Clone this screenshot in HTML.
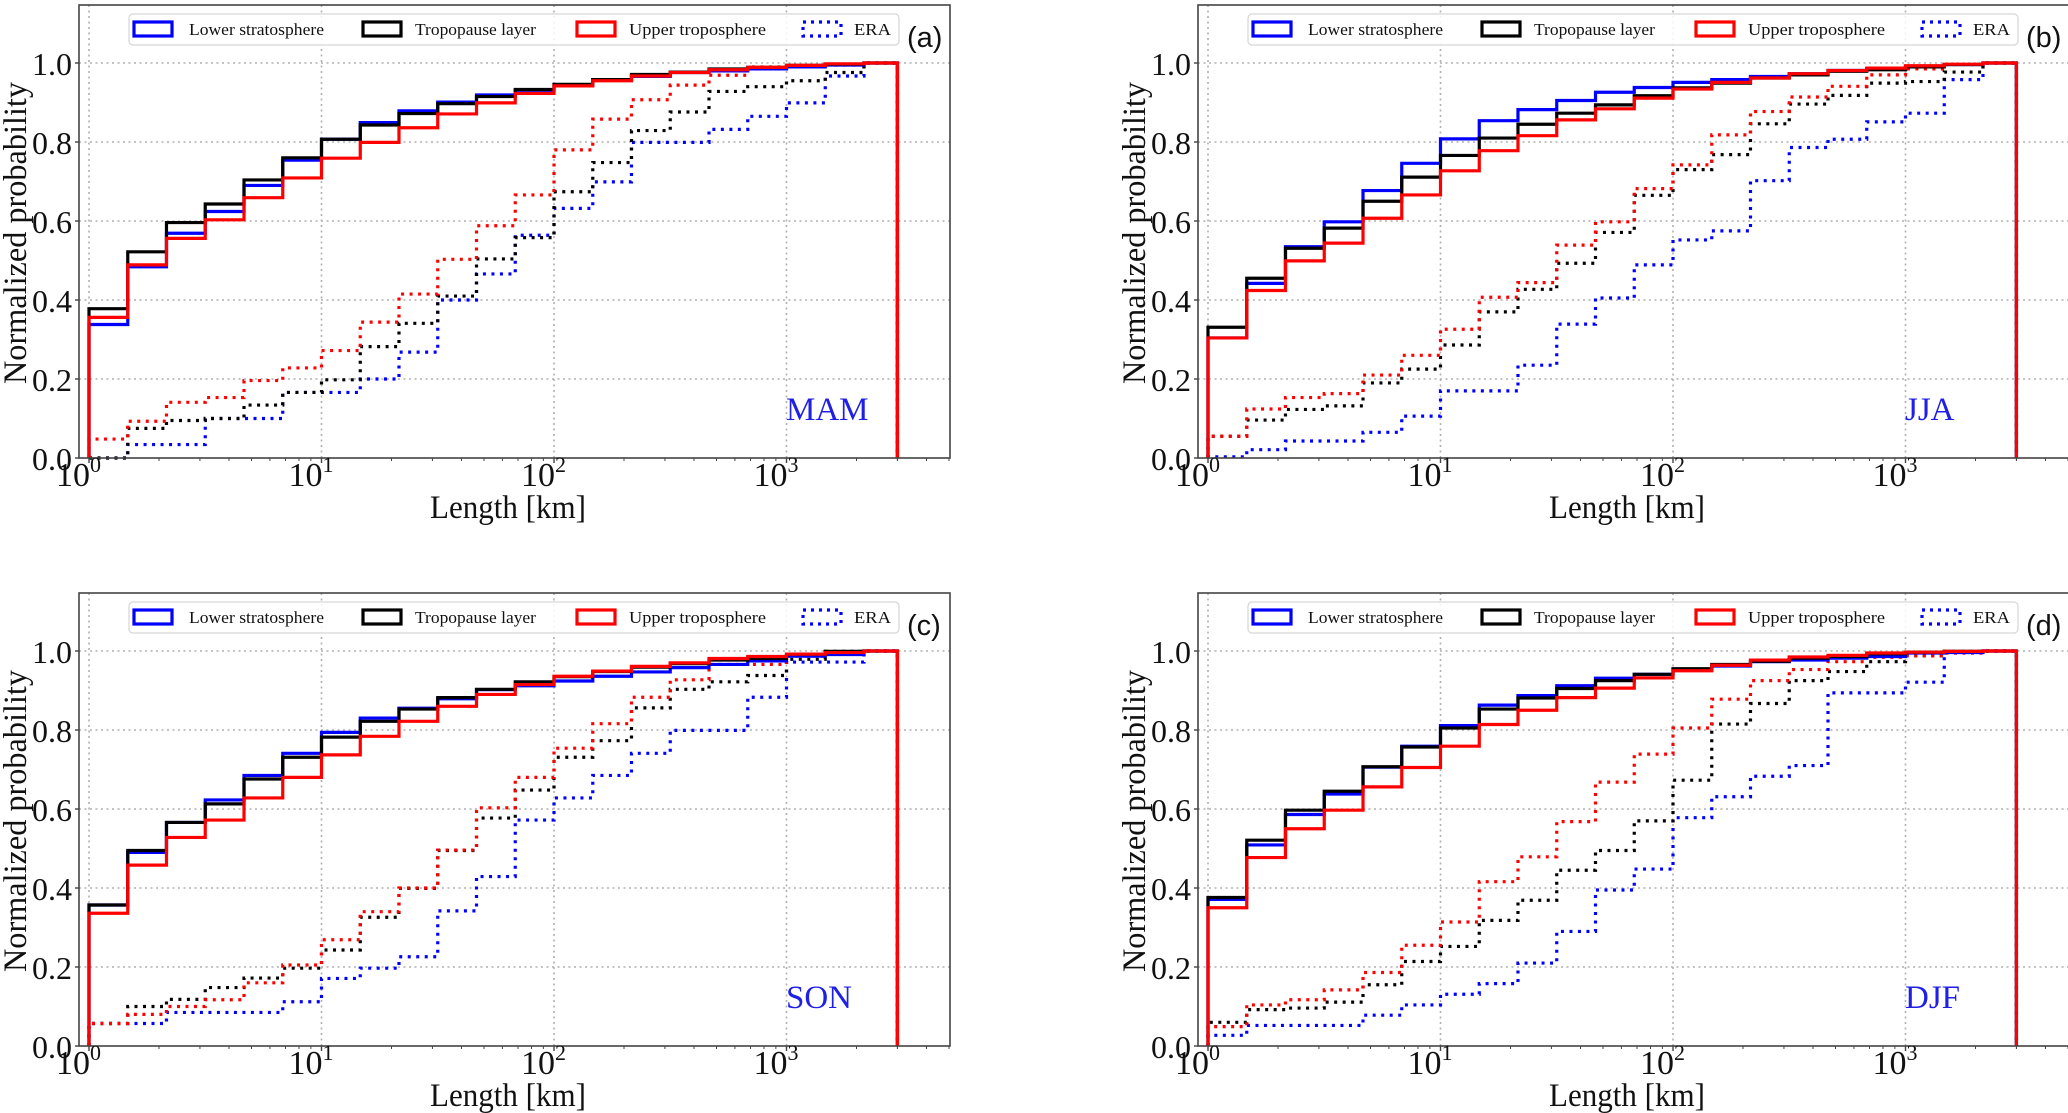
<!DOCTYPE html>
<html>
<head>
<meta charset="utf-8">
<style>
html,body{margin:0;padding:0;background:#fff;}
svg{display:block;}
</style>
</head>
<body>
<svg id="fig" width="2068" height="1113" viewBox="0 0 2068 1113" xmlns="http://www.w3.org/2000/svg"></svg>
<script>
// ---- data ----
const binEdgesKm = [1, 1.468, 2.154, 3.162, 4.642, 6.813, 10, 14.68, 21.54, 31.62, 46.42, 68.13, 100, 146.8, 215.4, 316.2, 464.2, 681.3, 1000, 1468, 2154, 3000];
const panelIds = ['a', 'b', 'c', 'd'];
const seasonLabels = ['MAM', 'JJA', 'SON', 'DJF'];
const yTickValues = [0.0, 0.2, 0.4, 0.6, 0.8, 1.0];
const yTickLabels = ['0.0', '0.2', '0.4', '0.6', '0.8', '1.0'];
const xTickDecades = [0, 1, 2, 3];
const legendLabels = ['Lower stratosphere', 'Tropopause layer', 'Upper troposphere', 'ERA'];

// (a) MAM
const lsA  = [0.338,0.484,0.569,0.624,0.690,0.754,0.807,0.849,0.879,0.901,0.919,0.931,0.944,0.958,0.966,0.976,0.980,0.985,0.990,0.995,1.0];
const tlA  = [0.378,0.522,0.596,0.643,0.704,0.760,0.807,0.843,0.872,0.897,0.915,0.933,0.946,0.958,0.971,0.977,0.985,0.989,0.994,0.997,1.0];
const utA  = [0.356,0.489,0.556,0.603,0.659,0.709,0.759,0.799,0.836,0.871,0.899,0.923,0.942,0.955,0.967,0.976,0.983,0.989,0.994,0.998,1.0];
const eraLsA = [0.0,0.034,0.034,0.100,0.100,0.166,0.166,0.200,0.268,0.400,0.466,0.564,0.632,0.699,0.799,0.799,0.832,0.865,0.899,0.967,1.0];
const eraTlA = [0.0,0.075,0.095,0.100,0.134,0.166,0.198,0.282,0.341,0.410,0.504,0.558,0.674,0.748,0.829,0.876,0.928,0.940,0.955,0.976,1.0];
const eraUtA = [0.048,0.093,0.141,0.153,0.196,0.228,0.272,0.344,0.415,0.503,0.588,0.666,0.780,0.858,0.907,0.944,0.969,0.990,0.992,0.995,1.0];
// (b) JJA
const lsB  = [0.304,0.442,0.535,0.598,0.677,0.746,0.808,0.854,0.882,0.905,0.926,0.938,0.951,0.958,0.966,0.973,0.981,0.985,0.992,0.996,1.0];
const tlB  = [0.331,0.455,0.531,0.582,0.650,0.711,0.766,0.810,0.845,0.873,0.894,0.917,0.937,0.949,0.962,0.970,0.979,0.983,0.990,0.996,1.0];
const utB  = [0.304,0.424,0.499,0.544,0.607,0.666,0.727,0.778,0.816,0.856,0.884,0.911,0.934,0.951,0.962,0.973,0.981,0.987,0.993,0.997,1.0];
const eraLsB = [0.003,0.021,0.043,0.043,0.065,0.106,0.170,0.170,0.235,0.339,0.405,0.489,0.552,0.575,0.702,0.786,0.807,0.851,0.873,0.958,1.0];
const eraTlB = [0.055,0.096,0.123,0.132,0.190,0.225,0.286,0.370,0.427,0.493,0.571,0.665,0.730,0.768,0.846,0.896,0.918,0.949,0.953,0.977,1.0];
const eraUtB = [0.055,0.124,0.153,0.163,0.210,0.260,0.326,0.407,0.444,0.539,0.598,0.682,0.742,0.818,0.877,0.914,0.941,0.970,0.985,0.996,1.0];
// (c) SON
const lsC  = [0.357,0.490,0.566,0.623,0.685,0.741,0.794,0.830,0.855,0.879,0.902,0.912,0.924,0.936,0.947,0.958,0.966,0.975,0.987,0.991,1.0];
const tlC  = [0.357,0.495,0.566,0.613,0.676,0.731,0.782,0.822,0.853,0.882,0.903,0.922,0.935,0.948,0.959,0.968,0.977,0.981,0.992,0.999,1.0];
const utC  = [0.336,0.458,0.528,0.572,0.628,0.680,0.737,0.784,0.822,0.860,0.890,0.915,0.936,0.949,0.961,0.970,0.981,0.986,0.992,0.996,1.0];
const eraLsC = [0.057,0.057,0.085,0.085,0.085,0.112,0.171,0.197,0.226,0.342,0.429,0.572,0.628,0.685,0.741,0.799,0.799,0.883,0.972,0.972,1.0];
const eraTlC = [0.057,0.100,0.118,0.148,0.172,0.197,0.243,0.326,0.399,0.495,0.577,0.648,0.731,0.773,0.856,0.903,0.922,0.938,0.979,0.999,1.0];
const eraUtC = [0.057,0.080,0.100,0.117,0.160,0.205,0.269,0.340,0.400,0.496,0.603,0.680,0.754,0.816,0.883,0.927,0.966,0.966,0.987,0.996,1.0];
// (d) DJF
const lsD  = [0.371,0.509,0.586,0.638,0.706,0.759,0.811,0.863,0.887,0.912,0.931,0.941,0.953,0.962,0.973,0.977,0.982,0.986,0.995,0.996,1.0];
const tlD  = [0.376,0.521,0.597,0.645,0.707,0.757,0.805,0.853,0.881,0.905,0.925,0.941,0.955,0.966,0.974,0.982,0.986,0.993,0.997,0.999,1.0];
const utD  = [0.350,0.477,0.550,0.597,0.656,0.705,0.759,0.814,0.850,0.882,0.906,0.932,0.950,0.964,0.977,0.985,0.989,0.995,0.997,0.999,1.0];
const eraLsD = [0.027,0.052,0.052,0.052,0.078,0.104,0.131,0.158,0.210,0.290,0.395,0.448,0.578,0.631,0.683,0.710,0.894,0.894,0.921,0.995,1.0];
const eraTlD = [0.060,0.092,0.096,0.111,0.155,0.214,0.252,0.318,0.369,0.445,0.495,0.570,0.673,0.815,0.867,0.925,0.948,0.973,0.988,0.999,1.0];
const eraUtD = [0.049,0.104,0.117,0.142,0.186,0.255,0.314,0.416,0.479,0.568,0.668,0.739,0.805,0.878,0.925,0.953,0.973,0.984,0.988,0.995,1.0];

const panelSeries = [
  [lsA, tlA, utA, eraLsA, eraTlA, eraUtA],
  [lsB, tlB, utB, eraLsB, eraTlB, eraUtB],
  [lsC, tlC, utC, eraLsC, eraTlC, eraUtC],
  [lsD, tlD, utD, eraLsD, eraTlD, eraUtD]
];

// ---- layout ----
const NS = 'http://www.w3.org/2000/svg';
const svg = document.getElementById('fig');
const COLORS = ['#0000ff', '#000000', '#ff0000'];
const SERIF = '"Liberation Serif", "DejaVu Serif", serif';
const SANS = '"Liberation Sans", "DejaVu Sans", sans-serif';

function mk(tag, attrs, parent) {
  const e = document.createElementNS(NS, tag);
  for (const k in attrs) e.setAttribute(k, attrs[k]);
  (parent || svg).appendChild(e);
  return e;
}

function drawPanel(idx) {
  const ox = (idx % 2) * 1119;
  const oy = Math.floor(idx / 2) * 588;
  const xAt1 = 89 + ox, decade = 232.5;
  const y0 = 458 + oy, unit = 395;
  const left = 79 + ox, right = 950 + ox, top = 5 + oy;
  const xs = v => xAt1 + Math.log10(v) * decade;
  const ys = v => y0 - v * unit;

  const g = mk('g', {});
  
  

  // grid
  const grid = mk('g', {}, g);
  
  
  yTickValues.slice(1).forEach(v => {
    mk('line', {x1: left, x2: right, y1: ys(v), y2: ys(v), stroke: '#b0b0b0', 'stroke-width': 1.6, 'stroke-dasharray': '2,3.5'}, grid);
  });
  xTickDecades.forEach(d => {
    const x = xs(Math.pow(10, d));
    mk('line', {x1: x, x2: x, y1: top, y2: y0, stroke: '#b0b0b0', 'stroke-width': 1.6, 'stroke-dasharray': '2,3.5'}, grid);
  });

  function stepPath(vals) {
    let d = 'M' + xs(binEdgesKm[0]) + ',' + ys(0);
    vals.forEach((v, i) => {
      d += ' L' + xs(binEdgesKm[i]) + ',' + ys(v) + ' L' + xs(binEdgesKm[i + 1]) + ',' + ys(v);
    });
    d += ' L' + xs(binEdgesKm[binEdgesKm.length - 1]) + ',' + ys(0);
    return d;
  }
  const S = panelSeries[idx];
  const names = ['lower-stratosphere', 'tropopause-layer', 'upper-troposphere'];
  // ERA dotted
  for (let k = 0; k < 3; k++) {
    const p = mk('path', {d: stepPath(S[3 + k]), fill: 'none', stroke: COLORS[k], 'stroke-width': 3.2, 'stroke-dasharray': '3,5.5'}, g);
    
    
  }
  // solid
  for (let k = 0; k < 3; k++) {
    const p = mk('path', {d: stepPath(S[k]), fill: 'none', stroke: COLORS[k], 'stroke-width': 3.2, 'stroke-linejoin': 'miter'}, g);
    
    
  }

  // spines
  const frame = mk('rect', {x: left, y: top, width: right - left, height: y0 - top, fill: 'none', stroke: '#444', 'stroke-width': 1.6}, g);
  
  

  // y ticks
  yTickValues.forEach((v, i) => {
    mk('line', {x1: left - 4, x2: left, y1: ys(v), y2: ys(v), stroke: '#444', 'stroke-width': 1.4}, g);
    const t = mk('text', {x: left - 7, y: ys(v) + 12, 'text-anchor': 'end', 'font-family': SERIF, 'font-size': 32, fill: '#111'}, g);
    t.textContent = yTickLabels[i];
    
    
  });
  // x ticks
  xTickDecades.forEach(d => {
    const x = xs(Math.pow(10, d));
    mk('line', {x1: x, x2: x, y1: y0, y2: y0 + 5, stroke: '#444', 'stroke-width': 1.4}, g);
    const t = mk('text', {x: x + 1, y: y0 + 28, 'text-anchor': 'end', 'font-family': SERIF, 'font-size': 34, fill: '#111'}, g);
    t.textContent = '10';
    
    
    const s = mk('text', {x: x + 1, y: y0 + 14, 'font-family': SERIF, 'font-size': 22, fill: '#111'}, g);
    s.textContent = String(d);
    
    
    for (let m = 2; m <= 9; m++) {
      const xm = xs(m * Math.pow(10, d));
      if (xm < right) mk('line', {x1: xm, x2: xm, y1: y0, y2: y0 + 3, stroke: '#444', 'stroke-width': 1}, g);
    }
  });
  for (let m = 2; m <= 5; m++) {
    const xm = xs(m * 1000);
    if (xm < right) mk('line', {x1: xm, x2: xm, y1: y0, y2: y0 + 3, stroke: '#444', 'stroke-width': 1}, g);
  }

  // axis titles
  const xl = mk('text', {x: 508 + ox, y: 518 + oy, 'text-anchor': 'middle', 'font-family': SERIF, 'font-size': 33, fill: '#111', textLength: 156, lengthAdjust: 'spacingAndGlyphs'}, g);
  xl.textContent = 'Length [km]';
  
  
  const yl = mk('text', {x: 0, y: 0, 'text-anchor': 'middle', 'font-family': SERIF, 'font-size': 33, fill: '#111', textLength: 302, lengthAdjust: 'spacingAndGlyphs', transform: 'translate(' + (26 + ox) + ',' + (233 + oy) + ') rotate(-90)'}, g);
  yl.textContent = 'Normalized probability';
  
  

  // legend
  const lg = mk('g', {}, g);
  
  
  mk('rect', {x: 129 + ox, y: 14 + oy, width: 770, height: 31, rx: 4, fill: '#fff', 'fill-opacity': 0.85, stroke: '#d6d6d6', 'stroke-width': 1.2}, lg);
  const hx = [134, 363, 577, 803];
  const tx = [189, 415, 629, 854];
  const tw = [135, 121, 137, 37];
  const hc = ['#0000ff', '#000000', '#ff0000', '#0000ff'];
  for (let i = 0; i < 4; i++) {
    const h = mk('rect', {x: hx[i] + ox, y: 22 + oy, width: 38, height: 14, fill: 'none', stroke: hc[i], 'stroke-width': 3.2}, lg);
    if (i === 3) h.setAttribute('stroke-dasharray', '3,5');
    
    
    const t = mk('text', {x: tx[i] + ox, y: 35 + oy, 'font-family': SERIF, 'font-size': 17, fill: '#111', textLength: tw[i], lengthAdjust: 'spacingAndGlyphs'}, lg);
    t.textContent = legendLabels[i];
    
    
  }
  // panel letter
  const pl = mk('text', {x: 907 + ox, y: 47 + oy, 'font-family': SANS, 'font-size': 29, fill: '#111'}, g);
  pl.textContent = '(' + panelIds[idx] + ')';
  
  
  // season
  const sl = mk('text', {x: 786 + ox, y: 420 + oy, 'font-family': SERIF, 'font-size': 33, fill: '#1f1fe6'}, g);
  sl.textContent = seasonLabels[idx];
  
  
}

for (let i = 0; i < 4; i++) drawPanel(i);
</script>
</body>
</html>
